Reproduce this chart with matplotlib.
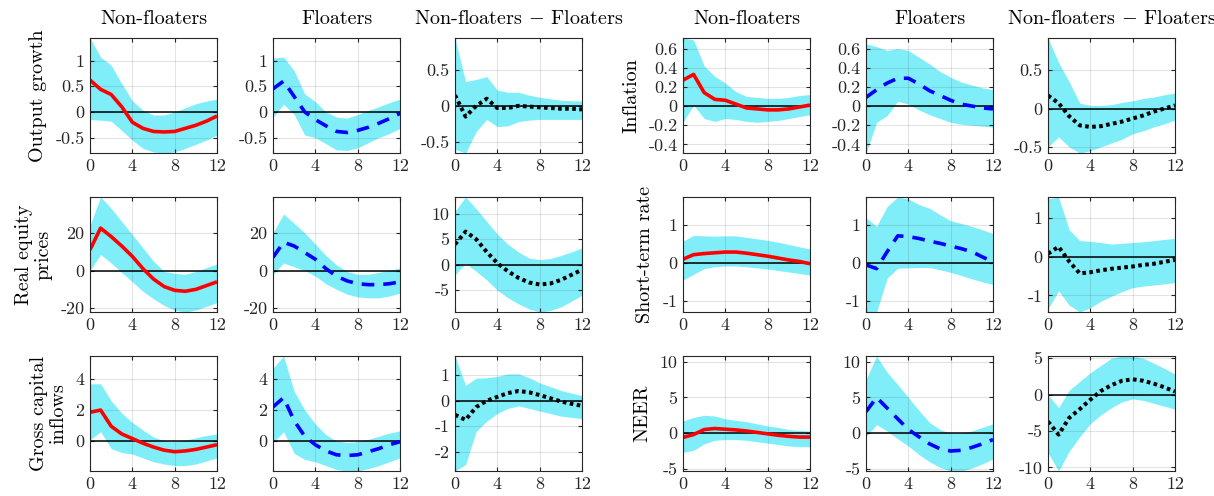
import numpy as np
import matplotlib
matplotlib.use("Agg")
import matplotlib.pyplot as plt
from matplotlib.ticker import FixedLocator, FuncFormatter

plt.rcParams['font.family'] = 'serif'
plt.rcParams['font.serif'] = ['cmr10']
plt.rcParams['mathtext.fontset'] = 'cm'
plt.rcParams['axes.unicode_minus'] = False

horizon = np.arange(13)

col_titles = ["Non-floaters", "Floaters", r"Non-floaters $-$ Floaters"]
row_labels_left = ["Output growth", "Real equity\nprices", "Gross capital\ninflows"]
row_labels_right = ["Inflation", "Short-term rate", "NEER"]
x_ticks = [0, 4, 8, 12]

# ---------------- Output growth ----------------
og_nf_med = [0.62, 0.44, 0.34, 0.10, -0.20, -0.32, -0.38, -0.39, -0.38, -0.32, -0.26, -0.18, -0.08]
og_nf_hi = [1.44, 1.07, 0.91, 0.55, 0.22, 0.03, -0.06, -0.06, 0.00, 0.08, 0.16, 0.21, 0.25]
og_nf_lo = [-0.15, -0.16, -0.18, -0.36, -0.55, -0.71, -0.78, -0.80, -0.78, -0.71, -0.63, -0.55, -0.45]
og_fl_med = [0.45, 0.60, 0.30, 0.00, -0.15, -0.27, -0.38, -0.40, -0.36, -0.30, -0.22, -0.13, -0.03]
og_fl_hi = [1.05, 1.07, 0.80, 0.35, 0.20, 0.00, -0.10, -0.12, -0.05, 0.03, 0.10, 0.18, 0.25]
og_fl_lo = [-0.10, 0.15, -0.05, -0.45, -0.50, -0.62, -0.74, -0.75, -0.70, -0.60, -0.50, -0.42, -0.32]
og_df_med = [0.15, -0.15, 0.00, 0.10, -0.03, -0.03, 0.00, -0.01, -0.02, -0.03, -0.04, -0.04, -0.05]
og_df_hi = [0.95, 0.34, 0.37, 0.41, 0.22, 0.19, 0.19, 0.15, 0.12, 0.10, 0.08, 0.07, 0.07]
og_df_lo = [-0.61, -0.66, -0.36, -0.19, -0.29, -0.28, -0.22, -0.20, -0.19, -0.19, -0.19, -0.19, -0.19]

# ---------------- Inflation ----------------
inf_nf_med = [0.27, 0.33, 0.14, 0.07, 0.06, 0.02, -0.02, -0.03, -0.04, -0.04, -0.03, -0.01, 0.01]
inf_nf_hi = [0.71, 0.69, 0.42, 0.31, 0.24, 0.15, 0.10, 0.09, 0.08, 0.08, 0.09, 0.11, 0.12]
inf_nf_lo = [-0.17, 0.01, -0.13, -0.16, -0.13, -0.14, -0.16, -0.17, -0.16, -0.15, -0.13, -0.11, -0.09]
inf_fl_med = [0.09, 0.17, 0.24, 0.29, 0.29, 0.23, 0.16, 0.11, 0.06, 0.02, 0.00, -0.02, -0.03]
inf_fl_hi = [0.65, 0.62, 0.58, 0.60, 0.58, 0.51, 0.44, 0.36, 0.30, 0.25, 0.22, 0.19, 0.17]
inf_fl_lo = [-0.49, -0.17, -0.10, 0.05, 0.02, -0.04, -0.09, -0.13, -0.17, -0.19, -0.20, -0.21, -0.22]
inf_df_med = [0.17, 0.07, -0.10, -0.22, -0.24, -0.23, -0.20, -0.17, -0.13, -0.09, -0.04, 0.00, 0.04]
inf_df_hi = [0.92, 0.60, 0.35, 0.07, 0.04, 0.04, 0.05, 0.08, 0.10, 0.13, 0.15, 0.18, 0.20]
inf_df_lo = [-0.50, -0.37, -0.50, -0.58, -0.55, -0.50, -0.45, -0.40, -0.33, -0.29, -0.24, -0.20, -0.15]

# ---------------- Real equity prices ----------------
eq_nf_med = [11.0, 22.5, 18.0, 13.0, 7.5, 1.0, -4.5, -8.5, -10.5, -11.0, -10.0, -8.0, -6.0]
eq_nf_hi = [24.0, 39.0, 33.0, 26.0, 19.0, 12.0, 5.0, -0.5, -1.5, -2.0, -0.5, 1.5, 3.5]
eq_nf_lo = [0.0, 8.5, 4.0, -1.0, -6.0, -11.0, -15.0, -18.5, -21.0, -22.0, -21.0, -19.0, -17.0]
eq_fl_med = [7.0, 15.0, 13.0, 9.5, 6.0, 1.0, -3.0, -5.5, -7.0, -7.5, -7.5, -7.0, -6.0]
eq_fl_hi = [20.0, 30.0, 25.0, 20.0, 14.0, 8.0, 3.0, -0.5, -2.0, -2.0, -1.0, 0.0, 1.5]
eq_fl_lo = [-2.0, 4.0, 2.0, 0.0, -3.0, -7.0, -10.0, -12.5, -14.0, -14.5, -14.5, -13.5, -12.0]
eq_df_med = [4.0, 6.5, 5.0, 2.5, 0.3, -1.3, -2.6, -3.5, -3.9, -3.7, -3.0, -2.0, -1.0]
eq_df_hi = [10.5, 13.3, 11.0, 8.5, 6.0, 4.0, 2.5, 1.3, 1.0, 1.2, 1.8, 2.5, 3.3]
eq_df_lo = [-2.0, 0.3, -1.3, -3.0, -5.0, -6.5, -7.7, -8.7, -9.3, -9.0, -8.3, -7.2, -6.0]

# ---------------- Short-term rate ----------------
sr_nf_med = [0.10, 0.22, 0.25, 0.27, 0.29, 0.29, 0.26, 0.22, 0.18, 0.13, 0.08, 0.04, -0.02]
sr_nf_hi = [0.58, 0.73, 0.72, 0.71, 0.72, 0.72, 0.68, 0.64, 0.60, 0.55, 0.49, 0.43, 0.37]
sr_nf_lo = [-0.45, -0.30, -0.15, -0.10, -0.08, -0.08, -0.10, -0.13, -0.16, -0.20, -0.24, -0.28, -0.32]
sr_fl_med = [-0.05, -0.15, 0.30, 0.72, 0.70, 0.65, 0.58, 0.52, 0.45, 0.38, 0.30, 0.16, 0.03]
sr_fl_hi = [1.20, 0.97, 1.50, 1.75, 1.70, 1.55, 1.45, 1.28, 1.12, 1.05, 0.97, 0.88, 0.78]
sr_fl_lo = [-1.30, -1.30, -0.40, -0.14, -0.13, -0.12, -0.12, -0.18, -0.25, -0.33, -0.42, -0.50, -0.57]
sr_df_med = [0.08, 0.26, -0.12, -0.43, -0.40, -0.35, -0.31, -0.28, -0.25, -0.21, -0.18, -0.13, -0.08]
sr_df_hi = [1.50, 1.55, 0.70, 0.42, 0.40, 0.37, 0.33, 0.35, 0.37, 0.39, 0.42, 0.45, 0.48]
sr_df_lo = [-1.35, -0.88, -1.25, -1.43, -1.32, -1.15, -1.02, -0.90, -0.80, -0.76, -0.73, -0.70, -0.67]

# ---------------- Gross capital inflows ----------------
ci_nf_med = [1.85, 2.00, 0.95, 0.45, 0.15, -0.15, -0.40, -0.60, -0.70, -0.65, -0.55, -0.40, -0.25]
ci_nf_hi = [3.70, 3.70, 2.60, 1.80, 1.20, 0.70, 0.25, 0.00, -0.05, 0.05, 0.20, 0.35, 0.45]
ci_nf_lo = [0.05, 0.60, -0.50, -0.75, -0.85, -1.10, -1.35, -1.50, -1.60, -1.60, -1.50, -1.30, -1.10]
ci_fl_med = [2.20, 2.80, 1.30, 0.30, -0.25, -0.65, -0.90, -0.95, -0.90, -0.70, -0.50, -0.25, -0.05]
ci_fl_hi = [4.70, 5.50, 3.20, 2.00, 1.10, 0.40, 0.00, -0.10, -0.05, 0.10, 0.30, 0.50, 0.65]
ci_fl_lo = [-0.10, 0.60, -0.80, -1.20, -1.35, -1.60, -1.85, -1.95, -1.95, -1.80, -1.60, -1.35, -1.10]
ci_df_med = [-0.55, -0.75, -0.25, 0.00, 0.15, 0.30, 0.38, 0.33, 0.22, 0.10, -0.03, -0.12, -0.20]
ci_df_hi = [1.75, 0.60, 0.88, 0.90, 0.95, 1.05, 1.05, 0.90, 0.70, 0.55, 0.40, 0.30, 0.20]
ci_df_lo = [-2.75, -2.50, -1.20, -0.80, -0.50, -0.30, -0.20, -0.30, -0.40, -0.50, -0.60, -0.65, -0.70]

# ---------------- NEER ----------------
ne_nf_med = [-0.60, -0.20, 0.50, 0.65, 0.55, 0.45, 0.30, 0.10, -0.10, -0.30, -0.45, -0.55, -0.55]
ne_nf_hi = [1.70, 2.20, 2.50, 2.40, 2.00, 1.80, 1.60, 1.30, 1.00, 0.80, 0.50, 0.40, 0.30]
ne_nf_lo = [-2.70, -2.40, -1.50, -1.00, -0.90, -0.90, -1.00, -1.20, -1.40, -1.60, -1.80, -1.90, -1.90]
ne_fl_med = [3.00, 5.00, 3.50, 2.00, 0.50, -0.50, -1.50, -2.20, -2.50, -2.40, -2.00, -1.50, -0.90]
ne_fl_hi = [7.50, 10.80, 8.50, 6.80, 5.00, 3.20, 1.50, 0.50, 0.00, 0.00, 0.30, 0.80, 1.30]
ne_fl_lo = [-0.50, 1.20, 0.30, -0.80, -1.80, -3.00, -4.00, -4.80, -5.30, -5.30, -4.90, -4.30, -3.60]
ne_df_med = [-3.70, -5.50, -3.20, -2.00, -0.70, 0.50, 1.30, 1.90, 2.10, 1.90, 1.50, 1.00, 0.40]
ne_df_hi = [0.00, -1.80, 0.60, 1.80, 3.00, 4.00, 5.00, 5.30, 5.30, 5.00, 4.30, 3.60, 2.80]
ne_df_lo = [-8.00, -10.50, -7.80, -5.80, -4.00, -2.80, -1.80, -1.00, -0.60, -0.80, -1.20, -1.60, -2.00]

groups = [
    (0, 0, row_labels_left[0], [(og_nf_med, og_nf_lo, og_nf_hi), (og_fl_med, og_fl_lo, og_fl_hi), (og_df_med, og_df_lo, og_df_hi)],
     [-0.5, 0, 0.5, 1], [-0.5, 0, 0.5]),
    (0, 1, row_labels_right[0], [(inf_nf_med, inf_nf_lo, inf_nf_hi), (inf_fl_med, inf_fl_lo, inf_fl_hi), (inf_df_med, inf_df_lo, inf_df_hi)],
     [-0.4, -0.2, 0, 0.2, 0.4, 0.6], [-0.5, 0, 0.5]),
    (1, 0, row_labels_left[1], [(eq_nf_med, eq_nf_lo, eq_nf_hi), (eq_fl_med, eq_fl_lo, eq_fl_hi), (eq_df_med, eq_df_lo, eq_df_hi)],
     [-20, 0, 20], [-5, 0, 5, 10]),
    (1, 1, row_labels_right[1], [(sr_nf_med, sr_nf_lo, sr_nf_hi), (sr_fl_med, sr_fl_lo, sr_fl_hi), (sr_df_med, sr_df_lo, sr_df_hi)],
     [-1, 0, 1], [-1, 0, 1]),
    (2, 0, row_labels_left[2], [(ci_nf_med, ci_nf_lo, ci_nf_hi), (ci_fl_med, ci_fl_lo, ci_fl_hi), (ci_df_med, ci_df_lo, ci_df_hi)],
     [0, 2, 4], [-2, -1, 0, 1]),
    (2, 1, row_labels_right[2], [(ne_nf_med, ne_nf_lo, ne_nf_hi), (ne_fl_med, ne_fl_lo, ne_fl_hi), (ne_df_med, ne_df_lo, ne_df_hi)],
     [-5, 0, 5, 10], [-10, -5, 0, 5]),
]

W, H = 1214, 496
fig = plt.figure(figsize=(W / 100, H / 100), dpi=100)

col_left_px = [90, 273, 455, 683, 866, 1048]
row_top_px = [38, 197, 356]
ax_w_px, ax_h_px = 127, 115

band_color = '#80EEF9'
line_styles = [
    dict(color='#FF0000', lw=2.6, ls='-'),
    dict(color='#0000FF', lw=2.6, ls=(0, (3.5, 2.5))),
    dict(color='#000000', lw=2.9, ls=(0, (0.9, 0.85))),
]

fmt = FuncFormatter(lambda v, p: f"{v:g}")

for row, side, ylabel, series, ticks_shared, ticks_diff in groups:
    shared_lo = min(min(series[0][1]), min(series[1][1]))
    shared_hi = max(max(series[0][2]), max(series[1][2]))
    for k in range(3):
        med, lo, hi = series[k]
        c = side * 3 + k
        l = col_left_px[c]
        t = row_top_px[row]
        ax = fig.add_axes([l / W, 1 - (t + ax_h_px) / H, ax_w_px / W, ax_h_px / H])
        ax.fill_between(horizon, lo, hi, color=band_color, lw=0, zorder=1)
        ax.axhline(0, color='black', lw=1.1, zorder=3)
        ax.plot(horizon, med, zorder=4, solid_capstyle='butt', dash_capstyle='butt', **line_styles[k])
        ax.set_xlim(0, 12)
        if k < 2:
            ax.set_ylim(shared_lo, shared_hi)
            yt = ticks_shared
        else:
            ax.set_ylim(min(lo), max(hi))
            yt = ticks_diff
        ax.xaxis.set_major_locator(FixedLocator(x_ticks))
        ax.yaxis.set_major_locator(FixedLocator(yt))
        ax.xaxis.set_major_formatter(fmt)
        ax.yaxis.set_major_formatter(fmt)
        ax.set_axisbelow(False)
        ax.grid(True, color='#262626', alpha=0.12, lw=0.8, zorder=2)
        ax.tick_params(direction='in', length=3, width=0.8, top=True, right=True,
                       labelsize=13, pad=4, colors='#262626', labelcolor='#262626')
        for sp in ax.spines.values():
            sp.set_linewidth(0.8)
            sp.set_color('#262626')
            sp.set_zorder(5)
        if row == 0:
            ax.set_title(col_titles[k], fontsize=14.5, pad=10)
        if k == 0:
            ax.set_ylabel(ylabel, fontsize=14.5, labelpad=6, linespacing=1.1)

fig.savefig("out.png", dpi=100)
